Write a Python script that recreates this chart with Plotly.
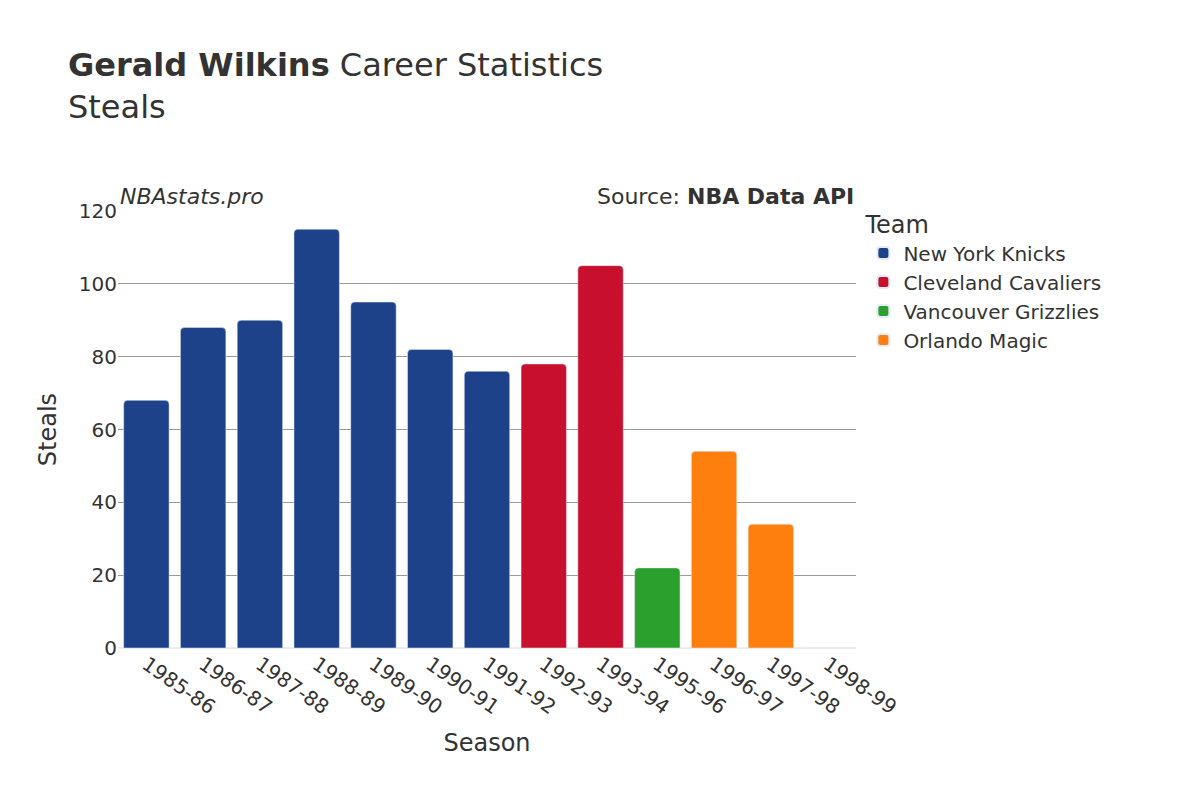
import plotly.graph_objects as go

seasons = ["1985-86", "1986-87", "1987-88", "1988-89", "1989-90", "1990-91", "1991-92",
           "1992-93", "1993-94", "1995-96", "1996-97", "1997-98", "1998-99"]
teams = ["New York Knicks"] * 7 + ["Cleveland Cavaliers"] * 2 + ["Vancouver Grizzlies"] + ["Orlando Magic"] * 3
steals = [68, 88, 90, 115, 95, 82, 76, 78, 105, 22, 54, 34, 0]

team_order = ["New York Knicks", "Cleveland Cavaliers", "Vancouver Grizzlies", "Orlando Magic"]
team_colors = {"New York Knicks": "#1d428a", "Cleveland Cavaliers": "#c8102e",
               "Vancouver Grizzlies": "#2ca02c", "Orlando Magic": "#ff7f0e"}

fig = go.Figure()
for team in team_order:
    xs = [s for s, t in zip(seasons, teams) if t == team]
    ys = [v for v, t in zip(steals, teams) if t == team]
    fig.add_trace(go.Bar(x=xs, y=ys, name=team, marker=dict(color=team_colors[team], cornerradius=4)))

fig.update_layout(
    width=1200, height=800,
    font=dict(family="DejaVu Sans", size=20, color="#333"),
    title=dict(text="<b>Gerald Wilkins</b> Career Statistics<br>Steals", x=0.05, y=0.915,
               font=dict(size=32, color="#333")),
    plot_bgcolor="white", paper_bgcolor="white",
    margin=dict(l=110, r=352, t=203, b=160),
    bargap=0.2,
    legend=dict(title=dict(text="Team", font=dict(size=24)), font=dict(size=20), x=1.01, y=1.02,
                itemsizing="constant"),
    xaxis=dict(title=dict(text="Season", font=dict(size=24)), categoryorder="array",
               categoryarray=seasons, tickangle=35),
    yaxis=dict(title=dict(text="Steals", font=dict(size=24)), range=[0, 120], dtick=20,
               gridcolor="#999", zeroline=True, zerolinecolor="#eee", zerolinewidth=2),
)
fig.add_annotation(text="<i>NBAstats.pro</i>", xref="paper", yref="paper", x=0, y=1,
                   xanchor="left", yanchor="bottom", showarrow=False, font=dict(size=22, color="#333"))
fig.add_annotation(text="Source: <b>NBA Data API</b>", xref="paper", yref="paper", x=1, y=1,
                   xanchor="right", yanchor="bottom", showarrow=False, font=dict(size=22, color="#333"))
fig.write_html("out.html")
